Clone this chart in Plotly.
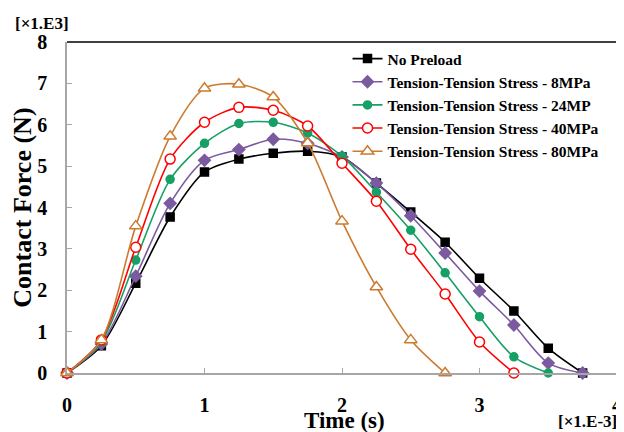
import plotly.graph_objects as go

time_ms = [0, 0.25, 0.5, 0.75, 1.0, 1.25, 1.5, 1.75, 2.0, 2.25, 2.5, 2.75, 3.0, 3.25, 3.5, 3.75]

no_preload = [0, 0.66, 2.17, 3.77, 4.86, 5.17, 5.31, 5.36, 5.22, 4.59, 3.89, 3.16, 2.29, 1.50, 0.60, 0]
stress_8 = [0, 0.70, 2.34, 4.10, 5.14, 5.40, 5.65, 5.55, 5.22, 4.59, 3.80, 2.90, 1.98, 1.16, 0.24, 0]
stress_24 = [0, 0.75, 2.73, 4.68, 5.55, 6.03, 6.06, 5.80, 5.24, 4.37, 3.45, 2.42, 1.36, 0.39, 0]
stress_40 = [0, 0.80, 3.04, 5.17, 6.06, 6.42, 6.35, 5.97, 5.07, 4.15, 2.99, 1.91, 0.75, 0]
stress_80 = [0, 0.80, 3.55, 5.72, 6.88, 6.98, 6.67, 5.56, 3.67, 2.08, 0.80, 0]

names = [
    "No Preload",
    "Tension-Tension Stress - 8MPa",
    "Tension-Tension Stress - 24MP",
    "Tension-Tension Stress - 40MPa",
    "Tension-Tension Stress - 80MPa",
]
series = [no_preload, stress_8, stress_24, stress_40, stress_80]
colors = ["#000000", "#7B5AA0", "#17A065", "#FF0000", "#CC7A2E"]
symbols = ["square", "diamond", "circle", "circle", "triangle-up"]
fills = ["#000000", "#7B5AA0", "#17A065", "#FFFFFF", "#FFFFFF"]
sizes = [8, 9, 8, 10, 11]

FONT = "Liberation Serif"

fig = go.Figure()
for name, ys, c, sym, fc, sz in zip(names, series, colors, symbols, fills, sizes):
    fig.add_trace(go.Scatter(
        x=time_ms[:len(ys)], y=ys, name=name, mode="lines+markers",
        line=dict(color=c, width=1.6, shape="spline", smoothing=0.8),
        marker=dict(symbol=sym, size=sz, color=fc, line=dict(color=c, width=1.5)),
        cliponaxis=False,
    ))

# the page body adds an 8px offset, so the figure is 8px smaller on each axis
fig.update_layout(
    width=616, height=424,
    margin=dict(l=59, r=7, t=34, b=59, autoexpand=False),
    paper_bgcolor="white", plot_bgcolor="white",
    font=dict(family=FONT, color="black"),
    showlegend=True,
    legend=dict(
        x=0.51, y=1.0, xanchor="left", yanchor="top",
        bgcolor="rgba(255,255,255,0)",
        font=dict(family=FONT, size=15.5, color="black", weight="bold"),
        tracegroupgap=0, itemwidth=30,
    ),
    xaxis=dict(
        range=[0, 4], tickvals=[0, 1, 2, 3, 4], ticktext=["0", "1", "2", "3", "4"],
        showgrid=False, zeroline=False, automargin=False,
        showline=True, linecolor="#A6A6A6", linewidth=1.5,
        ticks="inside", ticklen=5, tickcolor="#A6A6A6",
        ticklabelstandoff=13, ticklabeloverflow="allow",
        tickfont=dict(family=FONT, size=20, color="black", weight="bold"),
    ),
    yaxis=dict(
        range=[0, 8], tickvals=list(range(9)),
        showgrid=False, zeroline=False, automargin=False,
        showline=True, linecolor="#A6A6A6", linewidth=1.5,
        ticks="inside", ticklen=5, tickcolor="#A6A6A6",
        ticklabelstandoff=14, ticklabeloverflow="allow",
        tickfont=dict(family=FONT, size=20, color="black", weight="bold"),
    ),
    annotations=[
        dict(text="Time (s)", xref="paper", yref="paper", x=0.505, y=0,
             xanchor="center", yanchor="middle", yshift=-47, showarrow=False,
             font=dict(family=FONT, size=23, color="black", weight="bold")),
        dict(text="Contact Force (N)", xref="paper", yref="paper", x=-0.0815, y=0.5,
             xanchor="center", yanchor="middle", textangle=-90, showarrow=False,
             font=dict(family=FONT, size=26, color="black", weight="bold")),
        dict(text="[×1.E3]", xref="paper", yref="paper", x=-0.045, y=1.0,
             xanchor="center", yanchor="bottom", yshift=7, showarrow=False,
             font=dict(family=FONT, size=17, color="black", weight="bold")),
        dict(text="[×1.E-3]", xref="paper", yref="paper", x=1.0, y=0,
             xanchor="right", yanchor="top", yshift=-37, xshift=2, showarrow=False,
             font=dict(family=FONT, size=17, color="black", weight="bold")),
    ],
    shapes=[
        dict(type="line", xref="paper", yref="paper", x0=0, x1=1, y0=1, y1=1,
             line=dict(color="black", width=1.5)),
        dict(type="line", xref="paper", yref="paper", x0=1, x1=1, y0=0, y1=1,
             line=dict(color="#555555", width=1.2)),
    ],
)

fig.write_html("out.html")
